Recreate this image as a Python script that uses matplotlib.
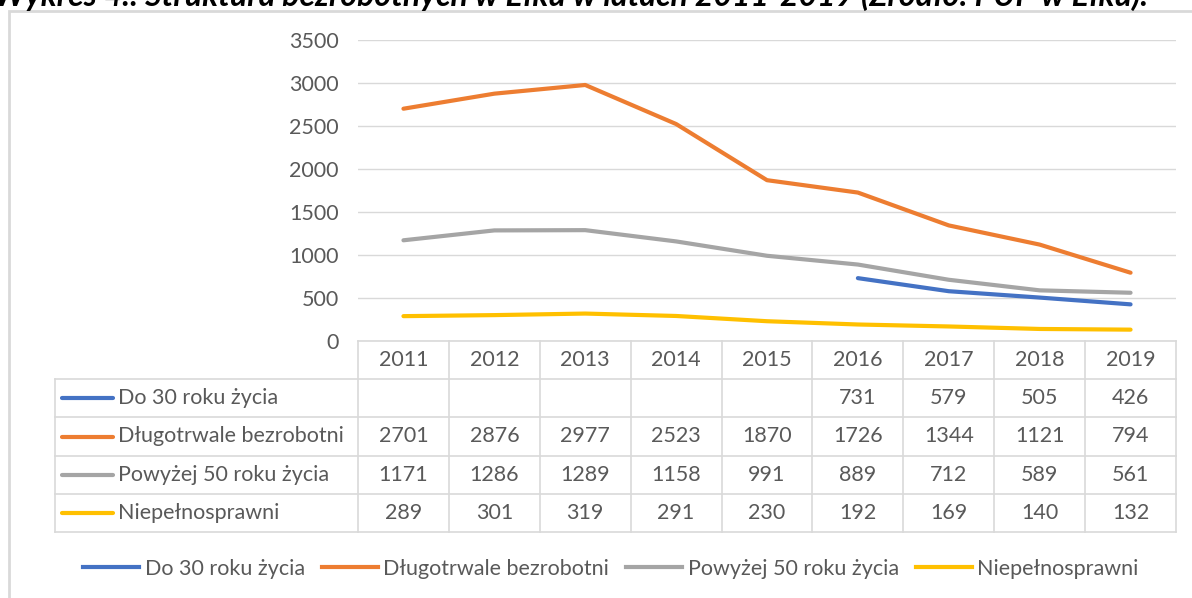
import numpy as np
import matplotlib
matplotlib.use("Agg")
import matplotlib.pyplot as plt
from matplotlib.lines import Line2D
from matplotlib.patches import Rectangle

plt.rcParams['font.family'] = ['Lato', 'DejaVu Sans']

# dane
years = ["2011", "2012", "2013", "2014", "2015", "2016", "2017", "2018", "2019"]
do30 = [np.nan, np.nan, np.nan, np.nan, np.nan, 731, 579, 505, 426]
dlugotrwale = [2701, 2876, 2977, 2523, 1870, 1726, 1344, 1121, 794]
powyzej50 = [1171, 1286, 1289, 1158, 991, 889, 712, 589, 561]
niepelnosprawni = [289, 301, 319, 291, 230, 192, 169, 140, 132]
names = ["Do 30 roku życia", "Długotrwale bezrobotni", "Powyżej 50 roku życia", "Niepełnosprawni"]
colors = ["#4472C4", "#ED7D31", "#A5A5A5", "#FFC000"]
series = [do30, dlugotrwale, powyzej50, niepelnosprawni]

W, H = 1192, 598
TXT = "#595959"
GRID = "#D9D9D9"
FS = 15.5

def fx(px):
    return px / W

def fy(py):
    return 1 - py / H

fig = plt.figure(figsize=(W / 100, H / 100), dpi=100)

# tytul (uciety u gory, jak w oryginale)
fig.text(fx(-6), fy(6), "Wykres 4.: Struktura bezrobotnych w Ełku w latach 2011-2019 (Źródło: PUP w Ełku).",
         fontsize=23, fontweight="bold", fontstyle="italic", color="black", ha="left", va="baseline")

# ramka wykresu
fig.add_artist(Rectangle((fx(9), -0.05), 1.0, fy(11) + 0.05, transform=fig.transFigure,
                         fill=False, edgecolor=GRID, lw=2, clip_on=False))

# wykres liniowy
left, right, top, bottom = 358, 1176, 40, 341
ax = fig.add_axes([fx(left), fy(bottom), fx(right - left), (bottom - top) / H])
x = np.arange(len(years))
for s, c, n in zip(series, colors, names):
    ax.plot(x, s, color=c, lw=3, label=n, solid_capstyle="round", solid_joinstyle="round")
ax.set_xlim(-0.5, len(years) - 0.5)
ax.set_ylim(0, 3500)
ax.set_yticks(range(0, 3501, 500))
ax.set_xticks([])
ax.tick_params(axis="y", length=0, pad=14, labelsize=FS, labelcolor=TXT)
ax.grid(axis="y", color=GRID, lw=1)
ax.set_axisbelow(True)
for sp in ax.spines.values():
    sp.set_visible(False)

# tabela danych
tleft, tbottom = 55, 532
colw = (right - left) / len(years)
tab = fig.add_axes([fx(tleft), fy(tbottom), fx(right - tleft), (tbottom - bottom) / H])
x0 = -0.5 - (left - tleft) / colw
tab.set_xlim(x0, len(years) - 0.5)
tab.set_ylim(5, 0)
tab.axis("off")
lk = dict(color=GRID, lw=1.2, clip_on=False)
# linie poziome
tab.plot([-0.5, len(years) - 0.5], [0, 0], **lk)
for r in range(1, 6):
    tab.plot([x0, len(years) - 0.5], [r, r], **lk)
# linie pionowe
tab.plot([x0, x0], [1, 5], **lk)
for c in range(len(years) + 1):
    tab.plot([c - 0.5, c - 0.5], [0, 5], **lk)
for i, yr in enumerate(years):
    tab.text(i, 0.5, yr, ha="center", va="center", fontsize=FS, color=TXT)
for r, (s, c, n) in enumerate(zip(series, colors, names)):
    yc = r + 1.5
    tab.plot([x0 + 7 / colw, x0 + 58 / colw], [yc, yc], color=c, lw=3, solid_capstyle="round")
    tab.text(x0 + 63 / colw, yc, n, ha="left", va="center", fontsize=FS, color=TXT)
    for i, v in enumerate(s):
        if not np.isnan(v):
            tab.text(i, yc, f"{int(v)}", ha="center", va="center", fontsize=FS, color=TXT)

# legenda
handles = [Line2D([], [], color=c, lw=3) for c in colors]
leg = fig.legend(handles, names, loc="center", bbox_to_anchor=(fx(611), fy(569)), ncol=4,
                 frameon=False, fontsize=FS, handlelength=2.6, handletextpad=0.25, columnspacing=0.8)
for t in leg.get_texts():
    t.set_color(TXT)

fig.savefig("out.png", dpi=100)
